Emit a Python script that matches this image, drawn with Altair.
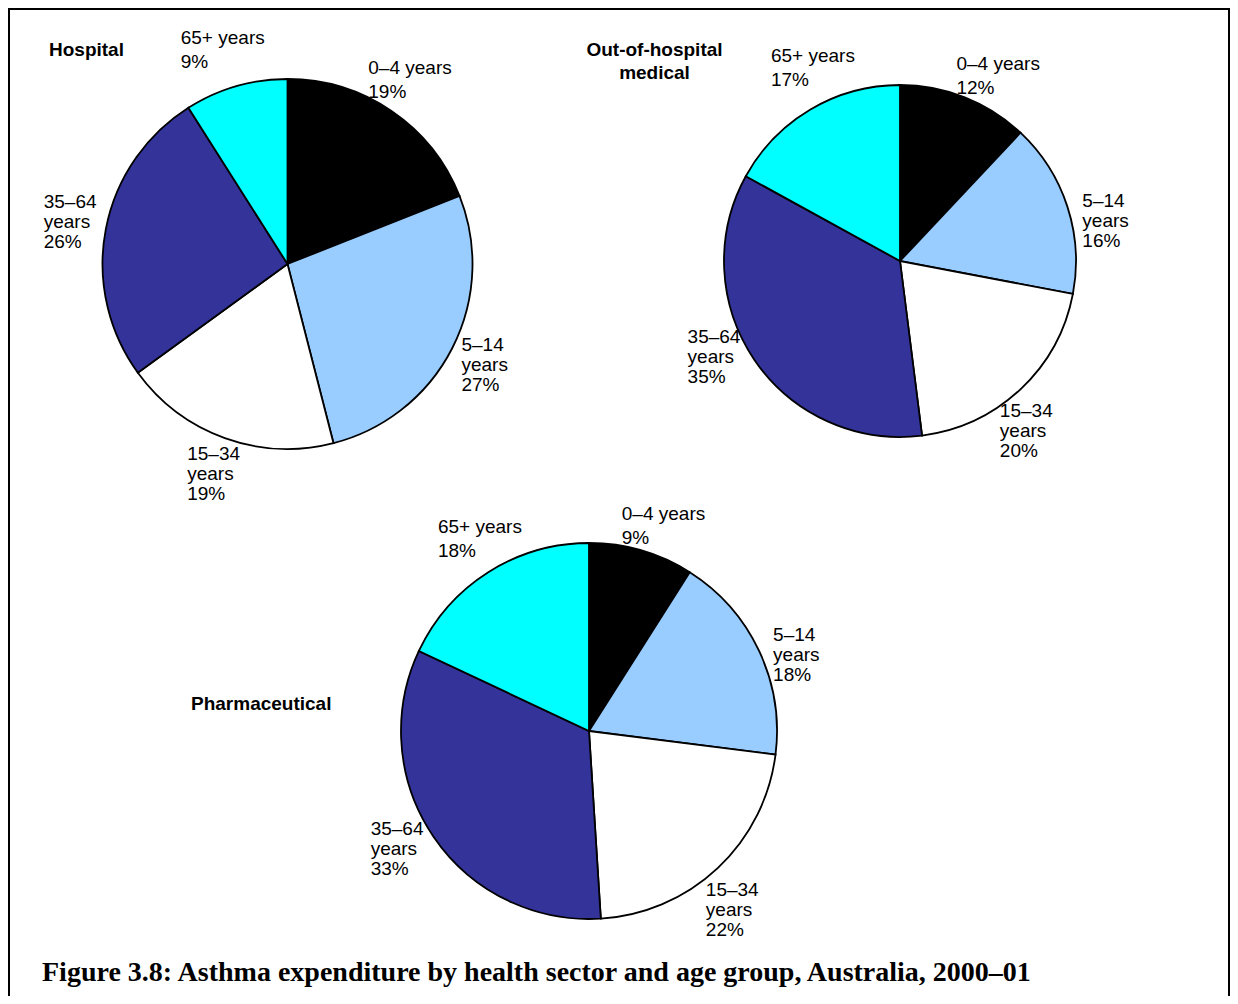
import altair as alt
import pandas as pd

# ---- data ----
ages = ["0–4", "5–14", "15–34", "35–64", "65+"]
hospital = [19, 27, 19, 26, 9]
out_of_hospital = [12, 16, 20, 35, 17]
pharmaceutical = [9, 18, 22, 33, 18]
sector_titles = ["Hospital", "Out-of-hospital\nmedical", "Pharmaceutical"]
years_own_line = [False, True, True, True, False]
age_colors = ["#000000", "#99CCFF", "#FFFFFF", "#333399", "#00FFFF"]
caption = "Figure 3.8: Asthma expenditure by health sector and age group, Australia, 2000–01"

rows = []
for sector, vals in [("Hospital", hospital), ("Out-of-hospital", out_of_hospital),
                     ("Pharmaceutical", pharmaceutical)]:
    for i, (a, v) in enumerate(zip(ages, vals)):
        if years_own_line[i]:
            lab = f"{a}\nyears\n{v}%"
        else:
            lab = f"{a} years\n{v}%"
        parts = lab.split("\n")
        rows.append({"sector": sector, "age": a, "value": v, "order": i,
                     "label": lab, "nchar": max(len(s) for s in parts),
                     "nlines": len(parts)})
df = pd.DataFrame(rows)

W, H = 1222, 988
FONT = "Liberation Sans"
FS = 19
CHW = 9.9  # approx. average character width at FS

# pie layout (centre, radius, label distance, label angle shift in degrees,
# vertical shift of the label ring)
layout = {
    "Hospital": dict(cx=279.5, cy=256, r=185, d=223, rot=0, ldy=0),
    "Out-of-hospital": dict(cx=892, cy=253, r=176, d=211, rot=7, ldy=0),
    "Pharmaceutical": dict(cx=581, cy=723, r=188, d=224, rot=4, ldy=5),
}

color_scale = alt.Scale(domain=ages, range=age_colors)
base = alt.Chart(df)

layers = []
# frame (bottom edge falls outside the page, as in the reference)
layers.append(
    alt.Chart(pd.DataFrame({"k": [0]})).mark_rect(
        fill=None, stroke="black", strokeWidth=2
    ).encode(x=alt.value(1), x2=alt.value(W - 1), y=alt.value(1), y2=alt.value(H + 40))
)

for sec, L in layout.items():
    arc = base.transform_filter(alt.datum.sector == sec).mark_arc(
        radius=L["r"], stroke="black", strokeWidth=1.8
    ).encode(
        theta=alt.Theta("value:Q", stack=True, scale=alt.Scale(domain=[0, 100])),
        order=alt.Order("order:Q"),
        color=alt.Color("age:N", scale=color_scale, legend=None),
        x=alt.value(L["cx"]),
        y=alt.value(L["cy"]),
    )
    layers.append(arc)
    for nl, lh in [(2, 24), (3, 20)]:
        txt = base.transform_filter(alt.datum.sector == sec).transform_joinaggregate(
            total="sum(value)"
        ).transform_window(
            cum="sum(value)", sort=[alt.SortField("order")], frame=[None, 0]
        ).transform_calculate(
            mid=f"2*PI*(datum.cum - datum.value/2)/datum.total + {L['rot']}*PI/180"
        ).transform_calculate(
            lx=f"{L['cx']} + {L['d']}*sin(datum.mid) - datum.nchar*{CHW}/2",
            ly=f"{L['cy'] + L['ldy']} - {L['d']}*cos(datum.mid) - (datum.nlines-1)*{lh}/2",
        ).transform_filter(alt.datum.nlines == nl).mark_text(
            align="left", baseline="middle", font=FONT, fontSize=FS, lineBreak="\n",
            lineHeight=lh, color="black"
        ).encode(
            x=alt.X("lx:Q", scale=None),
            y=alt.Y("ly:Q", scale=None),
            text="label:N",
        )
        layers.append(txt)

one = alt.Chart(pd.DataFrame({"k": [0]}))
# sector titles
layers.append(one.mark_text(align="left", baseline="middle", font=FONT, fontSize=FS,
                            fontWeight="bold", color="black").encode(
    x=alt.value(41), y=alt.value(42), text=alt.value(sector_titles[0])))
layers.append(one.mark_text(align="center", baseline="middle", font=FONT, fontSize=FS,
                            fontWeight="bold", color="black", lineBreak="\n",
                            lineHeight=23).encode(
    x=alt.value(646.5), y=alt.value(42), text=alt.value(sector_titles[1])))
layers.append(one.mark_text(align="left", baseline="middle", font=FONT, fontSize=FS,
                            fontWeight="bold", color="black").encode(
    x=alt.value(183), y=alt.value(696), text=alt.value(sector_titles[2])))
# caption
layers.append(one.mark_text(align="left", baseline="middle", font="Liberation Serif",
                            fontSize=28, fontWeight="bold", color="black").encode(
    x=alt.value(34), y=alt.value(965), text=alt.value(caption)))

chart = alt.layer(*layers).resolve_scale(theta="independent").properties(
    width=W, height=H, autosize=alt.AutoSizeParams(type="none"), padding=0
).configure_view(stroke=None)

chart.save("out.html", embed_options={"renderer": "svg", "actions": False})
